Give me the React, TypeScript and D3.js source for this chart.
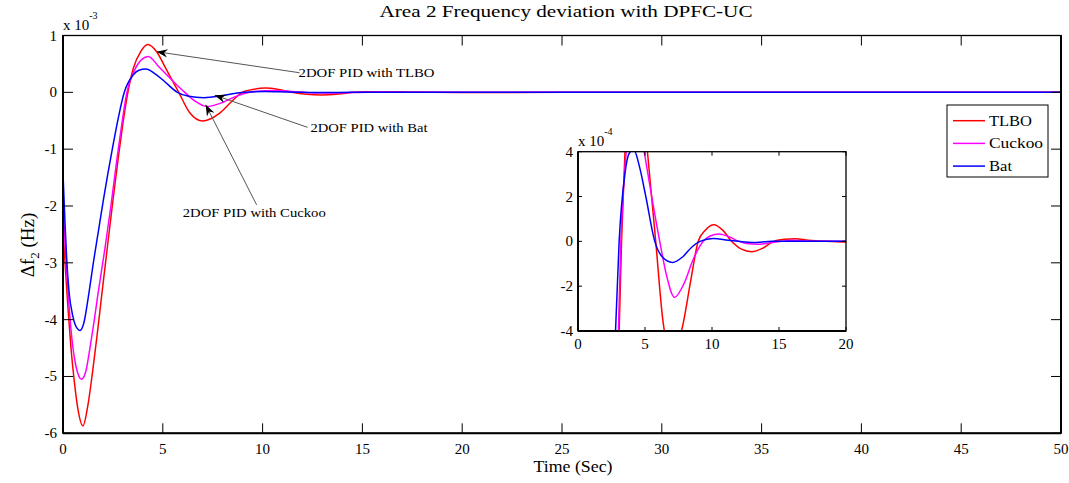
import React from "react";
import * as d3 from "d3";

// ---------- data (values in units of 1e-3 Hz) ----------
const tlboTime = [0, 0.1, 0.25, 0.4, 0.57, 0.75, 1.0, 1.25, 1.47, 1.7, 1.93, 2.18, 2.52, 2.77, 2.98, 3.25, 3.52, 3.9, 4.25, 4.7, 5.15, 5.8, 6.35, 7.0, 7.8, 8.4, 8.97, 9.5, 10.14, 10.8, 11.46, 12.2, 12.95, 13.8, 14.6, 15.4, 16.2, 17.2, 18.5, 20, 25, 30, 40, 50];
const tlboValues = [-2.4, -3.0, -3.8, -4.5, -5.1, -5.58, -5.87, -5.5, -4.95, -4.3, -3.6, -2.85, -1.85, -1.15, -0.6, 0, 0.42, 0.72, 0.84, 0.71, 0.42, 0, -0.36, -0.505, -0.38, -0.18, 0, 0.05, 0.074, 0.05, 0, -0.035, -0.046, -0.03, 0, 0.009, 0.012, 0.005, 0, -0.003, 0, 0, 0, 0];

const cuckooTime = [0, 0.1, 0.27, 0.45, 0.65, 0.93, 1.15, 1.35, 1.55, 1.73, 2.1, 2.4, 2.73, 2.95, 3.2, 3.6, 3.95, 4.27, 4.8, 5.5, 6.1, 6.6, 7.2, 7.9, 8.6, 9.34, 9.9, 10.5, 11.3, 12.0, 12.6, 13.4, 14.5, 15.2, 16.0, 17.5, 20, 30, 40, 50];
const cuckooValues = [-1.95, -2.65, -3.6, -4.35, -4.82, -5.05, -4.9, -4.5, -4.05, -3.6, -2.75, -2.0, -1.1, -0.55, 0, 0.4, 0.58, 0.63, 0.45, 0.2, 0, -0.15, -0.25, -0.19, -0.08, 0, 0.025, 0.033, 0.02, 0, -0.01, -0.013, -0.005, 0, 0.005, 0, 0, 0, 0, 0];

const batTime = [0, 0.1, 0.18, 0.3, 0.5, 0.7, 0.85, 1.05, 1.27, 1.52, 1.77, 2.02, 2.47, 2.8, 3.07, 3.5, 3.8, 4.15, 4.6, 5.06, 5.73, 6.3, 7.05, 7.8, 8.5, 9.1, 10.1, 11.2, 12.0, 13.0, 14.5, 20, 30, 40, 50];
const batValues = [-1.42, -2.3, -2.9, -3.5, -3.95, -4.15, -4.19, -4.05, -3.6, -3.0, -2.45, -1.9, -1.0, -0.4, 0, 0.3, 0.39, 0.41, 0.33, 0.2, 0, -0.07, -0.094, -0.07, -0.025, 0, 0.013, 0.005, 0, -0.005, 0, 0, 0, 0, 0];

const seriesNames = ["TLBO", "Cuckoo", "Bat"];
const seriesColors = ["#ff0000", "#ff00ff", "#0000ff"];

const xTicks = [0, 5, 10, 15, 20, 25, 30, 35, 40, 45, 50];
const yTicks = [1, 0, -1, -2, -3, -4, -5, -6];
const insetXTicks = [0, 5, 10, 15, 20];
const insetYTicks = [4, 2, 0, -2, -4]; // units of 1e-4

// annotations (positions in data units of the main axes)
const annotationLabels = ["2DOF PID with TLBO", "2DOF PID with Bat", "2DOF PID with Cuckoo"];
const annotationTextT = [11.8, 12.4, 6.0];
const annotationTextV = [0.27, -0.69, -2.2];
const annotationTailT = [11.85, 12.25, 9.7];
const annotationTailV = [0.345, -0.616, -1.98];
const annotationTipT = [4.69, 7.6, 7.15];
const annotationTipV = [0.715, -0.05, -0.22];

const FONT = "Liberation Serif";
const annotationWidths = [136, 117, 143];
const legendWidths = [43, 54, 23];

function arrowHead(x1: number, y1: number, x2: number, y2: number, L = 11, w = 4.2, notch = 3.5) {
  const dx = x2 - x1, dy = y2 - y1, len = Math.hypot(dx, dy);
  const ux = dx / len, uy = dy / len, nx = -uy, ny = ux;
  const bx = x2 - ux * L, by = y2 - uy * L;
  const mx = x2 - ux * (L - notch), my = y2 - uy * (L - notch);
  return `M${x2},${y2}L${bx + nx * w},${by + ny * w}L${mx},${my}L${bx - nx * w},${by - ny * w}Z`;
}

export default function App() {
  const W = 1069, H = 483;
  const x = d3.scaleLinear().domain([0, 50]).range([63, 1061]);
  const y = d3.scaleLinear().domain([-6, 1]).range([433.3, 35.5]);
  const ix = d3.scaleLinear().domain([0, 20]).range([578, 846]);
  const iy = d3.scaleLinear().domain([-4, 4]).range([331, 151.7]);

  const series = [
    { t: tlboTime, v: tlboValues },
    { t: cuckooTime, v: cuckooValues },
    { t: batTime, v: batValues },
  ];

  const mainLine = d3.line<[number, number]>().x(d => x(d[0])).y(d => y(d[1])).curve(d3.curveMonotoneX);
  const insetLine = d3.line<[number, number]>().x(d => ix(d[0])).y(d => iy(d[1] * 10)).curve(d3.curveMonotoneX);

  const [x0, x1] = x.range();
  const [yb, yt] = y.range();
  const [ix0, ix1] = ix.range();
  const [iyb, iyt] = iy.range();

  const txt = { fontFamily: FONT, fill: "#000" } as const;

  return (
    <svg width={W} height={H} style={{ position: "absolute", left: 0, top: 0, background: "#fff" }}>
      <defs>
        <clipPath id="mainClip"><rect x={x0} y={yt} width={x1 - x0} height={yb - yt} /></clipPath>
        <clipPath id="insetClip"><rect x={ix0} y={iyt} width={ix1 - ix0} height={iyb - iyt} /></clipPath>
      </defs>
      <rect x={0} y={0} width={W} height={H} fill="#fff" />

      {/* title */}
      <text {...txt} x={566} y={17} fontSize={16} textAnchor="middle" textLength={373} lengthAdjust="spacingAndGlyphs">Area 2 Frequency deviation with DPFC-UC</text>

      {/* main curves */}
      <g clipPath="url(#mainClip)">
        {series.map((s, i) => (
          <path key={i} d={mainLine(s.t.map((t, k) => [t, s.v[k]]) as [number, number][]) || ""} fill="none" stroke={seriesColors[i]} strokeWidth={1.5} />
        ))}
      </g>

      {/* main ticks */}
      {xTicks.map(t => (
        <g key={"xt" + t}>
          <line x1={x(t)} x2={x(t)} y1={yb} y2={yb - 10} stroke="#000" strokeWidth={1} />
          <line x1={x(t)} x2={x(t)} y1={yt} y2={yt + 10} stroke="#000" strokeWidth={1} />
          <text {...txt} x={x(t)} y={454} fontSize={15} textAnchor="middle">{t}</text>
        </g>
      ))}
      {yTicks.map(v => (
        <g key={"yt" + v}>
          <line x1={x0} x2={x0 + 10} y1={y(v)} y2={y(v)} stroke="#000" strokeWidth={1} />
          <line x1={x1} x2={x1 - 10} y1={y(v)} y2={y(v)} stroke="#000" strokeWidth={1} />
          <text {...txt} x={57} y={y(v) + 5} fontSize={15} textAnchor="end">{v}</text>
        </g>
      ))}
      <rect x={x0} y={yt} width={x1 - x0} height={yb - yt} fill="none" stroke="#000" strokeWidth={1.3} />
      <line x1={x0} x2={x0} y1={yt} y2={yb} stroke="#000" strokeWidth={2} />
      <line x1={x0} x2={x1} y1={yb} y2={yb} stroke="#000" strokeWidth={2} />
      <line x1={x1} x2={x1} y1={yt} y2={yb} stroke="#000" strokeWidth={2} />

      {/* exponent */}
      <text {...txt} x={63} y={30} fontSize={15}>x 10<tspan dy={-11} fontSize={10}>-3</tspan></text>

      {/* axis labels */}
      <text {...txt} x={573} y={472} fontSize={17} textAnchor="middle" textLength={79} lengthAdjust="spacingAndGlyphs">Time (Sec)</text>
      <text {...txt} transform="translate(34,245) rotate(-90)" fontSize={19} textAnchor="middle">
        Δf<tspan dy={5} fontSize={13}>2</tspan><tspan dy={-5}> (Hz)</tspan>
      </text>

      {/* annotations */}
      {annotationLabels.map((lab, i) => {
        const tx = x(annotationTailT[i]), ty = y(annotationTailV[i]);
        const hx = x(annotationTipT[i]), hy = y(annotationTipV[i]);
        return (
          <g key={"ann" + i}>
            <line x1={tx} y1={ty} x2={hx} y2={hy} stroke="#555" strokeWidth={1} />
            <path d={arrowHead(tx, ty, hx, hy)} fill="#000" />
            <text {...txt} x={x(annotationTextT[i])} y={y(annotationTextV[i])} fontSize={12.5} textLength={annotationWidths[i]} lengthAdjust="spacingAndGlyphs">{lab}</text>
          </g>
        );
      })}

      {/* legend */}
      <rect x={947} y={105} width={101} height={72} fill="#fff" stroke="#000" strokeWidth={1} />
      {seriesNames.map((n, i) => {
        const ly = 120.7 + i * 22.7;
        return (
          <g key={"lg" + n}>
            <line x1={953} x2={985} y1={ly} y2={ly} stroke={seriesColors[i]} strokeWidth={1.5} />
            <text {...txt} x={989} y={ly + 5} fontSize={14} textLength={legendWidths[i]} lengthAdjust="spacingAndGlyphs">{n}</text>
          </g>
        );
      })}

      {/* inset */}
      <rect x={ix0} y={iyt} width={ix1 - ix0} height={iyb - iyt} fill="#fff" />
      <g clipPath="url(#insetClip)">
        {series.map((s, i) => (
          <path key={"in" + i} d={insetLine(s.t.filter(t => t <= 25).map((t, k) => [t, s.v[k]]) as [number, number][]) || ""} fill="none" stroke={seriesColors[i]} strokeWidth={1.5} />
        ))}
      </g>
      {insetXTicks.map(t => (
        <g key={"ixt" + t}>
          <line x1={ix(t)} x2={ix(t)} y1={iyb} y2={iyb - 4} stroke="#000" />
          <line x1={ix(t)} x2={ix(t)} y1={iyt} y2={iyt + 4} stroke="#000" />
          <text {...txt} x={ix(t)} y={349} fontSize={15} textAnchor="middle">{t}</text>
        </g>
      ))}
      {insetYTicks.map(v => (
        <g key={"iyt" + v}>
          <line x1={ix0} x2={ix0 + 4} y1={iy(v)} y2={iy(v)} stroke="#000" />
          <line x1={ix1} x2={ix1 - 4} y1={iy(v)} y2={iy(v)} stroke="#000" />
          <text {...txt} x={573} y={iy(v) + 5} fontSize={15} textAnchor="end">{v}</text>
        </g>
      ))}
      <rect x={ix0} y={iyt} width={ix1 - ix0} height={iyb - iyt} fill="none" stroke="#000" strokeWidth={1.3} />
      <line x1={ix0} x2={ix0} y1={iyt} y2={iyb} stroke="#000" strokeWidth={1.8} />
      <line x1={ix0} x2={ix1} y1={iyb} y2={iyb} stroke="#000" strokeWidth={1.8} />
      <text {...txt} x={578} y={146} fontSize={15}>x 10<tspan dy={-11} fontSize={10}>-4</tspan></text>
    </svg>
  );
}
